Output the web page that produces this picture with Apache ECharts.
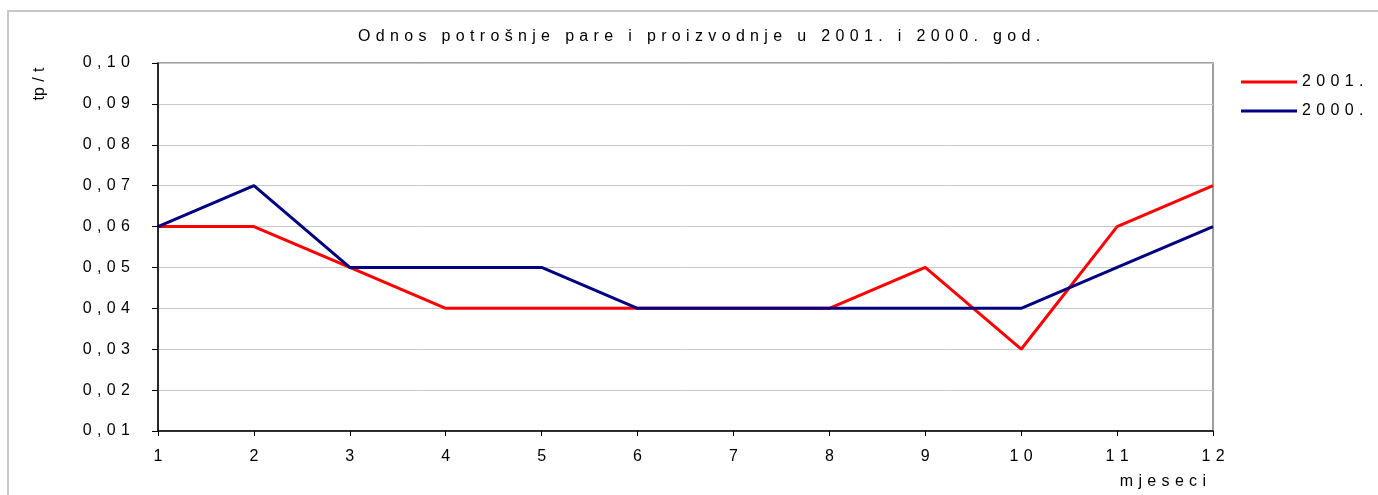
<!DOCTYPE html>
<html>
<head>
<meta charset="utf-8">
<script src="https://cdn.jsdelivr.net/npm/echarts@6/dist/echarts.min.js"></script>
<style>
  html, body { margin: 0; padding: 0; background: #fff; }
  #main { width: 1378px; height: 495px; }
</style>
</head>
<body>
<div id="main"></div>
<script>
var months = ['1', '2', '3', '4', '5', '6', '7', '8', '9', '10', '11', '12'];
var y2001 = [0.06, 0.06, 0.05, 0.04, 0.04, 0.04, 0.04, 0.04, 0.05, 0.03, 0.06, 0.07];
var y2000 = [0.06, 0.07, 0.05, 0.05, 0.05, 0.04, 0.04, 0.04, 0.04, 0.04, 0.05, 0.06];
var yTicks = [0.01, 0.10]; // min, max

// excel style letter spaced text
var spaced = function (s) {
	return s.split('').join('\u2004');
};

var font = 'Liberation Sans, Arial, sans-serif';

var myChart = echarts.init(document.getElementById('main'));
var option = {
	animation: false,
	backgroundColor: '#fff',
	title: {
		text: spaced('Odnos potrošnje pare i proizvodnje u 2001. i 2000. god.'),
		left: 694,
		textAlign: 'center',
		top: 24,
		textStyle: { fontFamily: font, fontSize: 16, fontWeight: 'normal', color: '#000' }
	},
	legend: {
		orient: 'vertical',
		left: 1236,
		top: 69,
		itemWidth: 56,
		itemHeight: 3,
		itemGap: 13,
		icon: 'rect',
		textStyle: { fontFamily: font, fontSize: 16, color: '#000' },
		formatter: function (name) { return spaced(name); },
		data: ['2001.', '2000.']
	},
	grid: {
		left: 158,
		right: 165,
		top: 63,
		bottom: 64,
		show: true,
		borderColor: '#808080',
		borderWidth: 1.5
	},
	xAxis: {
		type: 'category',
		boundaryGap: false,
		data: months,
		axisLine: { lineStyle: { color: '#000', width: 1.5 } },
		axisTick: { show: true, length: 5, lineStyle: { color: '#000' } },
		axisLabel: {
			margin: 18,
			fontFamily: font, fontSize: 16, color: '#000',
			formatter: function (v) { return spaced(v); }
		},
		splitLine: { show: false }
	},
	yAxis: {
		type: 'value',
		min: yTicks[0],
		max: yTicks[1],
		interval: 0.01,
		axisLine: { show: true, lineStyle: { color: '#000', width: 1.5 } },
		axisTick: { show: true, length: 6, lineStyle: { color: '#000' } },
		axisLabel: {
			margin: 28,
			fontFamily: font, fontSize: 16, color: '#000',
			formatter: function (v) { return spaced(v.toFixed(2).replace('.', ',')); }
		},
		splitLine: { lineStyle: { color: '#c8c8c8', width: 1 } }
	},
	graphic: [
		{
			type: 'rect',
			shape: { x: 8, y: 11, width: 1500, height: 600 },
			style: { fill: 'none', stroke: '#c8c8c8', lineWidth: 2 },
			silent: true
		},
		{
			type: 'text',
			x: 40, y: 84,
			rotation: Math.PI / 2,
			style: { text: 'tp\u2004/\u2004t', font: '16px ' + font, fill: '#000', align: 'center', verticalAlign: 'middle' }
		},
		{
			type: 'text',
			x: 1206, y: 482,
			style: { text: spaced('mjeseci'), font: '16px ' + font, fill: '#000', align: 'right', verticalAlign: 'middle' }
		}
	],
	series: [{
		name: '2001.',
		type: 'line',
		data: y2001,
		showSymbol: false,
		symbol: 'none',
		color: '#ff0000',
		lineStyle: { color: '#ff0000', width: 3 }
	}, {
		name: '2000.',
		type: 'line',
		data: y2000,
		showSymbol: false,
		symbol: 'none',
		color: '#000080',
		lineStyle: { color: '#000080', width: 3 }
	}]
};
myChart.setOption(option);
</script>
</body>
</html>
